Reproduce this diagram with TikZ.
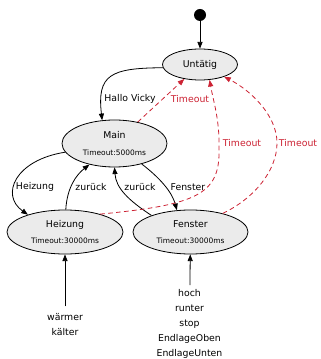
\documentclass[tikz,border=0pt]{standalone}
\usepackage{fontspec}
\setmainfont{DejaVu Sans}
\usetikzlibrary{shapes.geometric,arrows.meta}
\definecolor{toRed}{RGB}{204,34,51}
\definecolor{stateGray}{RGB}{235,235,235}
\newcommand{\subtxt}[1]{{\fontsize{5.6}{6.5}\selectfont #1}}

\begin{document}
\begin{tikzpicture}[x=0.75pt,y=-0.75pt,
        font=\fontsize{7}{11.25}\selectfont,
        state/.style={ellipse, draw, fill=stateGray, inner sep=0pt, align=center, line width=0.6pt},
        arr/.style={-{Triangle[length=5pt,width=3.8pt]}, line width=0.6pt},
        tout/.style={arr, color=toRed, dash pattern=on 3.5pt off 2.5pt},
        lbl/.style={inner sep=0pt},
        lblRed/.style={lbl, text=toRed},
        input/.style={align=center, inner xsep=0pt}]
        \useasboundingbox (0,0) rectangle (320,359);

        \node (start) [circle, fill, inner sep=0pt, minimum size=9pt] at (200,15) {};
        \node (untatig) [state, minimum width=56.25pt, minimum height=23.25pt] at (200,64.5) {Untätig};
        \node (main) [state, minimum width=78.75pt, minimum height=35.25pt] at (114.5,143.5) {Main\\[1.5pt]\subtxt{Timeout:5000ms}};
        \node (heizung) [state, minimum width=87pt, minimum height=33pt] at (65,232) {Heizung\\[0.5pt]\subtxt{Timeout:30000ms}};
        \node (fenster) [state, minimum width=86.25pt, minimum height=33pt] at (190.5,232) {Fenster\\[0.5pt]\subtxt{Timeout:30000ms}};

        \node (heizIn) [input, inner ysep=5pt] at (65,324.5) {wärmer\\kälter};
        \node (fenIn) [input, inner ysep=3pt] at (189.5,324) {hoch\\runter\\stop\\EndlageOben\\EndlageUnten};

        \draw[arr] (start) -- (untatig);
        \draw[arr] (untatig.185) .. controls (110,68) and (97,75) .. (main.118);
        \draw[arr] (main.190) .. controls (15,160) and (0,195) .. (heizung.155);
        \draw[arr] (heizung.88) .. controls (67,188) and (76,175) .. (main.-140);
        \draw[arr] (fenster.157) .. controls (128,200) and (116,188) .. (main.-90);
        \draw[arr] (main.-37) .. controls (160,178) and (172,192) .. (fenster.122);
        \draw[arr] (heizIn) -- (heizung);
        \draw[arr] (fenIn) -- (fenster);

        \draw[tout] (main) -- (untatig);
        \draw[tout] (heizung.27) .. controls (195,205) and (220,195) .. (219,150) .. controls (220,120) and (213,100) .. (untatig.-58);
        \draw[tout] (fenster.30) .. controls (255,198) and (277,170) .. (277,143) .. controls (277,115) and (250,90) .. (untatig.-27);

        \node (lHallo) [lbl] at (130,99) {Hallo Vicky};
        \node (lTimeMain) [lblRed] at (190,99) {Timeout};
        \node (lTimeHeiz) [lblRed] at (242,143) {Timeout};
        \node (lTimeFen) [lblRed] at (298,143) {Timeout};
        \node (lHeiz) [lbl] at (35,187) {Heizung};
        \node (lZurHeiz) [lbl] at (91,187) {zurück};
        \node (lZurFen) [lbl] at (140,187) {zurück};
        \node (lFen) [lbl] at (188,187) {Fenster};
    \end{tikzpicture}
\end{document}
